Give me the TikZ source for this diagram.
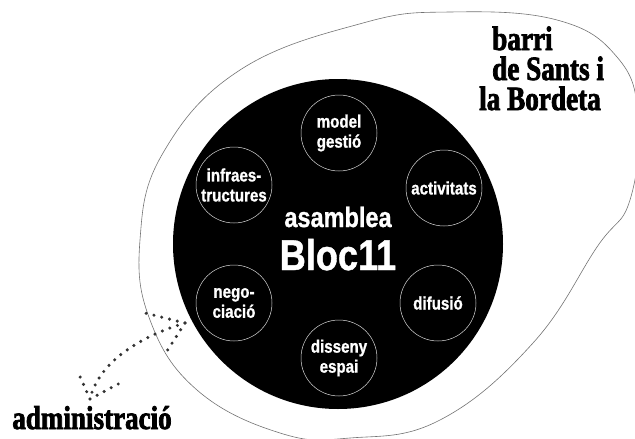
\documentclass[tikz,border=0pt]{standalone}
\usepackage{fontspec}
\newfontfamily\labfont[FakeStretch=0.84, FakeBold=1]{Liberation Sans}
\newfontfamily\heavyfont[FakeStretch=0.8, FakeBold=2.2]{Liberation Serif}
\newfontfamily\admfont[FakeStretch=0.82, FakeBold=2.2]{Liberation Serif}

\begin{document}
\begin{tikzpicture}[x=1pt, y=-1pt,
    egg/.style   ={draw=black!55, line width=0.6pt},
    bloc/.style  ={circle, fill=black, minimum size=330pt, inner sep=0pt},
    task/.style  ={circle, draw=white!85!black, line width=0.5pt, minimum size=76pt, inner sep=0pt,
                   text=white, align=center, font=\labfont\bfseries\fontsize{18}{20}\selectfont},
    title/.style ={text=white, inner sep=0pt, anchor=base, font=\labfont\bfseries},
    place/.style ={inner sep=0pt, align=left, font=\heavyfont\bfseries\fontsize{34}{30}\selectfont},
    dotline/.style={draw=black!80, line width=3.4pt, line cap=round, dash pattern=on 0pt off 8pt},
  ]
  \useasboundingbox (0,0) rectangle (635,439);
  \clip (0,0) rectangle (635,439);

  % ---------------- the neighbourhood ---------------------------------------
  \draw[egg] plot[smooth cycle, tension=0.7] coordinates {
      (450,12) (557,20) (617,57) (638,115) (630,200) (597,247) (533,343)
      (440,420) (350,438) (280,433) (197,390) (150,320) (140,240) (163,153)
      (240,70) (363,23)};
  \node[place, anchor=base west] (barri) at (479,110)
      {\hspace*{13pt}barri\\\hspace*{13pt}de Sants i\\la Bordeta};

  % ---------------- the assembly and its commissions ------------------------
  \node[bloc] (bloc) at (338,244) {};
  \node[title, font=\labfont\bfseries\fontsize{28}{30}\selectfont] (asm)  at (338,227) {asamblea};
  \node[title, font=\labfont\bfseries\fontsize{43}{45}\selectfont] (name) at (338,270) {Bloc11};

  \node[task] (model)   at (339,133) {model\\gestió};
  \node[task] (activ)   at (444,188) {activitats};
  \node[task] (difus)   at (438,303) {difusió};
  \node[task] (disseny) at (339,358) {disseny\\espai};
  \node[task] (negoc)   at (234,303) {nego-\\ciació};
  \node[task] (infra)   at (234,185) {infraes-\\tructures};

  % ---------------- administration, dotted two-way arrow --------------------
  \node[place, font=\admfont\bfseries\fontsize{33}{30}\selectfont, anchor=base] (adm) at (92,429) {administració};
  \coordinate (tipA) at (185,323);
  \coordinate (tipB) at (90,399);
  \draw[dotline] (tipA) .. controls (135,338) and (98,365) .. (tipB);
  \draw[dotline] (tipA) -- ++(-40,-10);
  \draw[dotline] (tipA) -- ++(-18,28);
  \draw[dotline] (tipB) -- ++(-13,-29);
  \draw[dotline] (tipB) -- ++(32,-17);

\end{tikzpicture}
\end{document}
